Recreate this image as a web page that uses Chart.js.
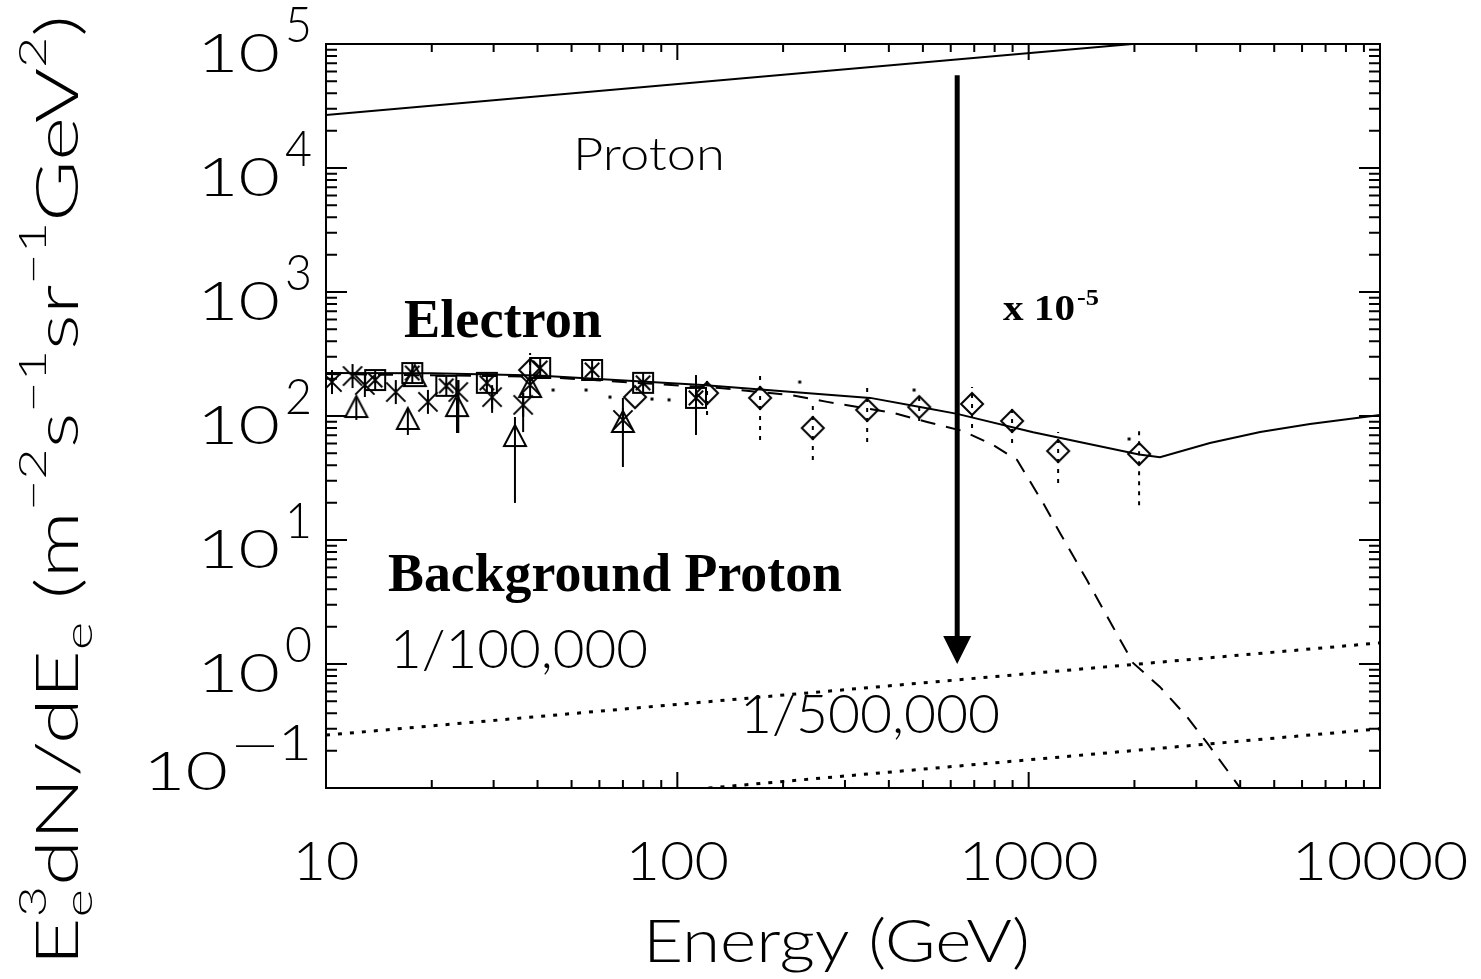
<!DOCTYPE html>
<html>
<head>
<meta charset="utf-8">
<title>Electron spectrum and background protons</title>
<style>
  html, body { margin: 0; padding: 0; background: #fff; }
  #wrap { width: 1481px; height: 979px; }
</style>
</head>
<body>
<div id="wrap"><canvas id="myChart" width="1481" height="979"></canvas></div>

<script src="https://cdn.jsdelivr.net/npm/chart.js"></script>
<script>
// ---- data (energy in GeV, flux E^3 dN/dE) ----

// proton flux, straight line in log-log
const protonE = [10, 10000];
const protonF = [26700, 150000];

// background protons scaled by 1/100,000 and 1/500,000
const bg1E = [10, 10000];
const bg1F = [0.267, 1.48];
const bg2E = [10, 10000];
const bg2F = [0.0534, 0.30];

// electron model (solid)
const elecE = [10, 20, 40, 118, 354, 491, 626, 1030, 2062, 2365, 3280, 4560, 6320, 10000];
const elecF = [222, 221, 212, 178, 140, 118, 104, 74, 49, 46.5, 60.5, 74.2, 86.1, 102];

// electron model with cutoff (dashed)
const cutE = [10, 40, 132, 209, 267, 411, 514, 650, 792, 927, 1099, 1228, 1465, 1738, 1982, 2365, 2824, 3220, 4000];
const cutF = [218, 208, 168, 148, 130, 106, 89.5, 75.7, 58.4, 44.2, 19.9, 11.4, 4.75, 1.99, 1.02, 0.653, 0.374, 0.231, 0.1];

// measurements: asterisks
const starE  = [10.4, 11.9, 12.9, 15.8, 19.5, 23.8, 29.7, 36.4, 38.1, 70.0];
const starF  = [188, 210, 178, 156, 130, 156, 142, 123, 178, 92.9];
const starLo = [null, null, null, null, null, 72.9, 106, 74.2, null, null];
const starHi = [null, null, null, null, null, 195, 171, 153, null, null];

// triangles
const triE  = [12.2, 17.1, 17.9, 23.6, 34.5, 38.1, 70.0];
const triF  = [116, 92.9, 206, 118, 67.7, 168, 87.9];
const triLo = [92.9, 70.3, null, 72.9, 19.9, null, 38.8];
const triHi = [140, 116, null, 140, 98.2, null, 140];

// boxed asterisks
const boxE  = [13.8, 17.6, 22.0, 28.7, 40.7, 57.2, 79.9, 113];
const boxF  = [195, 222, 175, 185, 244, 235, 185, 140];
const boxLo = [null, null, null, null, null, null, null, 70.3];
const boxHi = [null, null, null, null, null, null, null, 214];

// diamonds (dotted error bars)
const diaE  = [38.1, 75.8, 121.5, 172, 243, 347, 488, 690, 897, 1213, 2062];
const diaF  = [235, 142, 153, 140, 80, 112, 118, 125, 91.2, 52.2, 49.4];
const diaLo = [214, null, 102, 64, 44.2, 61.7, 91.2, 80, 60.5, 28.8, 19.1];
const diaHi = [322, null, 210, 214, 123, 171, 153, 171, 123, 74.2, 80];

// small dots
const dotE = [44.3, 55.0, 64.3, 84.7, 94.7, 223, 472, 1931];
const dotF = [162, 162, 142, 137, 135, 188, 162, 65.3];

// arrow "x 10^-5" from proton down to background level
const arrowE = 626;
const arrowFrom = 56000;
const arrowTo = 1.0;

// axis ticks
const xTicks = [10, 100, 1000, 10000];
const xTickLabels = ['10', '100', '1000', '10000'];
const yTicks = [1e5, 1e4, 1e3, 1e2, 1e1, 1e0, 1e-1];
const yTickExp = ['5', '4', '3', '2', '1', '0', '\u20141'];

// -------------------------------------------------------------------

function pts(xs, ys) {
    return xs.map((x, i) => ({ x: x, y: ys[i] }));
}

function thin(size) {
    return '300 ' + size + 'px Lato, "Open Sans", Roboto, sans-serif';
}
function boldSerif(size) {
    return 'bold ' + size + 'px "Liberation Serif", "Times New Roman", serif';
}

// draw text squeezed / stretched to a given width
function fitText(ctx, text, left, width, baseline, font) {
    ctx.save();
    ctx.font = font;
    ctx.textAlign = 'left';
    ctx.textBaseline = 'alphabetic';
    const w = ctx.measureText(text).width;
    ctx.translate(left, baseline);
    ctx.scale(width / w, 1);
    ctx.fillText(text, 0, 0);
    ctx.restore();
}

// point markers drawn on small canvases
function marker(kind) {
    const s = 30;
    const c = document.createElement('canvas');
    c.width = s;
    c.height = s;
    const g = c.getContext('2d');
    const m = s / 2;
    g.strokeStyle = '#000';
    g.lineWidth = 2;
    g.beginPath();
    if (kind === 'star' || kind === 'box') {
        const a = kind === 'box' ? 9 : 12;
        const d = a * 0.8;
        g.moveTo(m, m - a); g.lineTo(m, m + a);
        g.moveTo(m - d, m - d); g.lineTo(m + d, m + d);
        g.moveTo(m + d, m - d); g.lineTo(m - d, m + d);
    }
    if (kind === 'box') {
        g.rect(m - 10, m - 10, 20, 20);
    }
    if (kind === 'tri') {
        g.moveTo(m, m - 12); g.lineTo(m + 11, m + 9); g.lineTo(m - 11, m + 9); g.closePath();
    }
    if (kind === 'dia') {
        g.moveTo(m, m - 11); g.lineTo(m + 11, m); g.lineTo(m, m + 11); g.lineTo(m - 11, m); g.closePath();
    }
    if (kind === 'dot') {
        g.fillStyle = '#000';
        g.fillRect(m - 1.5, m - 1.5, 3, 3);
    }
    g.stroke();
    return c;
}

const errorSets = [
    { e: starE, lo: starLo, hi: starHi, dash: [] },
    { e: triE, lo: triLo, hi: triHi, dash: [] },
    { e: boxE, lo: boxLo, hi: boxHi, dash: [] },
    { e: diaE, lo: diaLo, hi: diaHi, dash: [4, 6] }
];

const errorBars = {
    id: 'errorBars',
    beforeDatasetsDraw(chart) {
        const ctx = chart.ctx;
        const xs = chart.scales.x, ys = chart.scales.y;
        ctx.save();
        ctx.strokeStyle = '#000';
        ctx.lineWidth = 2;
        errorSets.forEach(s => {
            ctx.setLineDash(s.dash);
            s.e.forEach((e, i) => {
                if (s.lo[i] == null) return;
                const px = xs.getPixelForValue(e);
                ctx.beginPath();
                ctx.moveTo(px, ys.getPixelForValue(s.lo[i]));
                ctx.lineTo(px, ys.getPixelForValue(s.hi[i]));
                ctx.stroke();
            });
        });
        ctx.restore();
    }
};

const frame = {
    id: 'frame',
    afterDraw(chart) {
        const ctx = chart.ctx;
        const a = chart.chartArea;
        const xs = chart.scales.x, ys = chart.scales.y;
        ctx.save();
        ctx.strokeStyle = '#000';
        ctx.fillStyle = '#000';
        ctx.lineWidth = 2;
        ctx.strokeRect(a.left, a.top, a.right - a.left, a.bottom - a.top);

        // inward log ticks on all four sides
        ctx.beginPath();
        for (let d = 1; d <= 4; d++) {
            for (let k = 1; k <= 9; k++) {
                const v = k * Math.pow(10, d);
                if (v > 10000 || (d === 1 && k === 1)) continue;
                const px = xs.getPixelForValue(v);
                const len = k === 1 ? 16 : 8;
                ctx.moveTo(px, a.bottom); ctx.lineTo(px, a.bottom - len);
                ctx.moveTo(px, a.top); ctx.lineTo(px, a.top + len);
            }
        }
        for (let d = -1; d <= 4; d++) {
            for (let k = 1; k <= 9; k++) {
                const v = k * Math.pow(10, d);
                const py = ys.getPixelForValue(v);
                const len = k === 1 ? 21 : 11;
                ctx.moveTo(a.left, py); ctx.lineTo(a.left + len, py);
                ctx.moveTo(a.right, py); ctx.lineTo(a.right - len, py);
            }
        }
        ctx.stroke();

        // x tick labels
        xTicks.forEach((v, i) => {
            const px = xs.getPixelForValue(v);
            const n = xTickLabels[i].length;
            const w = 36.5 * n - 6;
            fitText(ctx, xTickLabels[i], px - w / 2, w, 880, thin(53));
        });

        // y tick labels: 10 with raised exponent
        yTicks.forEach((v, i) => {
            const py = ys.getPixelForValue(v);
            if (i === yTicks.length - 1) {
                fitText(ctx, '10', 143, 85, 790, thin(53));
                fitText(ctx, yTickExp[i], 232, 80, 760, thin(50));
            } else {
                fitText(ctx, '10', 197, 83, py + 28, thin(53));
                fitText(ctx, yTickExp[i], 285, 27, py - 2, thin(50));
            }
        });

        // axis title x
        fitText(ctx, 'Energy (GeV)', 643, 387, 962, thin(59));

        // axis title y, rotated
        const segs = [
            ['E', 0], ['e', -1, '3'], ['dN/dE', 0], ['e', -1], [' (m', 0], ['\u22122', 1], ['s', 0],
            ['\u22121', 1], ['sr', 0], ['\u22121', 1], ['GeV', 0], ['2', 1], [')', 0]
        ];
        ctx.save();
        ctx.translate(78, 966);
        ctx.rotate(-Math.PI / 2);
        let total = 0;
        const widths = segs.map(s => {
            ctx.font = s[1] === 0 ? thin(59) : thin(38);
            let w = ctx.measureText(s[0]).width;
            if (s[2]) w = Math.max(w, ctx.measureText(s[2]).width);
            total += w;
            return w;
        });
        ctx.scale(951 / total, 1);
        let cx = 0;
        segs.forEach((s, i) => {
            ctx.textAlign = 'left';
            ctx.textBaseline = 'alphabetic';
            if (s[1] === 0) {
                ctx.font = thin(59);
                ctx.fillText(s[0], cx, 0);
            } else if (s[1] === -1) {
                ctx.font = thin(38);
                ctx.fillText(s[0], cx, 14);
                if (s[2]) ctx.fillText(s[2], cx, -32);
            } else {
                ctx.font = thin(38);
                ctx.fillText(s[0], cx, -32);
            }
            cx += widths[i];
        });
        ctx.restore();

        // annotations
        fitText(ctx, 'Proton', 573, 152, 170, thin(46));
        fitText(ctx, 'Electron', 404, 198, 337, boldSerif(54));
        fitText(ctx, 'Background Proton', 388, 454, 591, boldSerif(54));
        fitText(ctx, 'x 10', 1003, 72, 320, boldSerif(36));
        fitText(ctx, '-5', 1077, 22, 305, boldSerif(24));
        fitText(ctx, '1/100,000', 390, 258, 668, thin(53));
        fitText(ctx, '1/500,000', 740, 260, 733, thin(53));

        // arrow
        const ax = xs.getPixelForValue(arrowE);
        const ay0 = ys.getPixelForValue(arrowFrom);
        const ay1 = ys.getPixelForValue(arrowTo);
        ctx.lineWidth = 5;
        ctx.beginPath();
        ctx.moveTo(ax, ay0);
        ctx.lineTo(ax, ay1 - 26);
        ctx.stroke();
        ctx.beginPath();
        ctx.moveTo(ax - 14, ay1 - 28);
        ctx.lineTo(ax + 14, ay1 - 28);
        ctx.lineTo(ax, ay1);
        ctx.closePath();
        ctx.fill();
        ctx.restore();
    }
};

const lineBase = { type: 'line', fill: false, pointRadius: 0, borderColor: '#000', borderWidth: 2, tension: 0 };
const pointBase = { type: 'line', showLine: false, pointRadius: 10, pointHoverRadius: 10 };

const datasets = [
    Object.assign({}, lineBase, { label: 'Proton', data: pts(protonE, protonF) }),
    Object.assign({}, lineBase, { label: 'Background 1/100,000', data: pts(bg1E, bg1F), borderDash: [4, 8], borderWidth: 3 }),
    Object.assign({}, lineBase, { label: 'Background 1/500,000', data: pts(bg2E, bg2F), borderDash: [4, 8], borderWidth: 3 }),
    Object.assign({}, lineBase, { label: 'Electron', data: pts(elecE, elecF) }),
    Object.assign({}, lineBase, { label: 'Electron cutoff', data: pts(cutE, cutF), borderDash: [15, 11] }),
    Object.assign({}, pointBase, { label: 'star', data: pts(starE, starF), pointStyle: marker('star') }),
    Object.assign({}, pointBase, { label: 'tri', data: pts(triE, triF), pointStyle: marker('tri') }),
    Object.assign({}, pointBase, { label: 'box', data: pts(boxE, boxF), pointStyle: marker('box') }),
    Object.assign({}, pointBase, { label: 'dia', data: pts(diaE, diaF), pointStyle: marker('dia') }),
    Object.assign({}, pointBase, { label: 'dot', data: pts(dotE, dotF), pointStyle: marker('dot') })
];

const config = {
    type: 'line',
    data: { datasets: datasets },
    options: {
        responsive: false,
        animation: false,
        devicePixelRatio: 1,
        layout: { padding: { left: 326, right: 101, top: 44, bottom: 191 } },
        plugins: { legend: { display: false }, tooltip: { enabled: false } },
        scales: {
            x: { type: 'logarithmic', min: 10, max: 10000, display: false },
            y: { type: 'logarithmic', min: 0.1, max: 100000, display: false }
        }
    },
    plugins: [errorBars, frame]
};

const myChart = new Chart(document.getElementById('myChart'), config);
</script>
</body>
</html>
